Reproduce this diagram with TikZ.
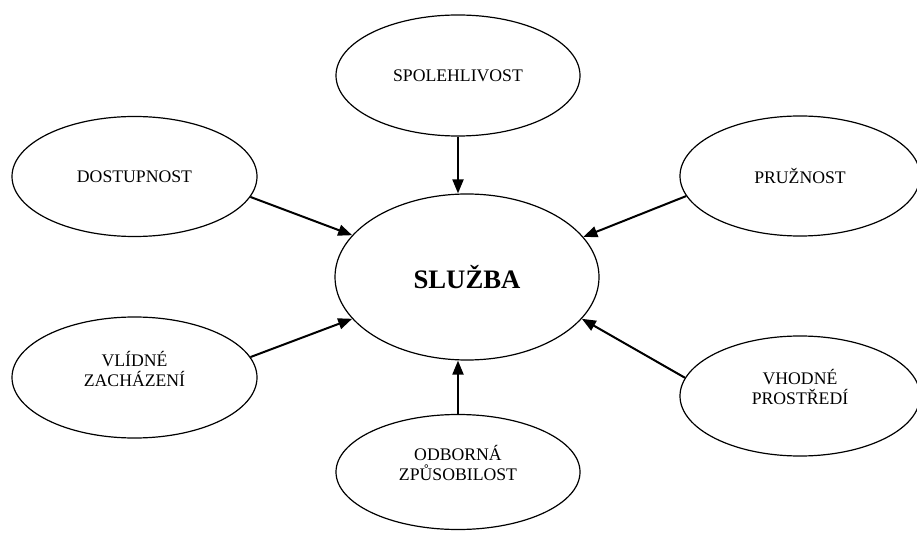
\documentclass[tikz,border=0pt]{standalone}
\usepackage{fontspec}
\setmainfont{Liberation Serif}
\usetikzlibrary{shapes.geometric,arrows.meta}
\begin{document}
\begin{tikzpicture}[x=1pt,y=1pt]
    \tikzstyle{bubble}=[ellipse, draw, line width=1.2pt, inner sep=0pt, minimum width=244pt, minimum height=120pt, align=center, font=\fontsize{17.7}{20}\selectfont]
    \tikzstyle{twoline}=[text depth=18pt]
    \tikzstyle{link}=[line width=2pt, -{Triangle[length=14pt,width=11pt]}]

    \useasboundingbox (0,0) rectangle (917,533);

    \node [bubble, minimum width=264pt, minimum height=166pt, font=\fontsize{26.7}{30}\selectfont\bfseries] (a) at (467,256) {SLUŽBA};

    \node [bubble, minimum height=121pt] (b) at (458,457.5) {SPOLEHLIVOST};
    \node [bubble, minimum width=245pt] (c) at (134.5,356.5) {DOSTUPNOST};
    \node [bubble, minimum width=240pt] (d) at (800,357) {PRUŽNOST};
    \node [bubble, twoline, minimum width=245pt, minimum height=121pt] (e) at (134.5,155.5) {VLÍDNÉ\\ZACHÁZENÍ};
    \node [bubble, twoline, minimum width=240pt] (f) at (800,137) {VHODNÉ\\PROSTŘEDÍ};
    \node [bubble, twoline, minimum height=115pt] (g) at (458,61) {ODBORNÁ\\ZPŮSOBILOST};

    \draw [link] (b.south) -- (b.south |- a.north);
    \draw [link] (c.-10) -- (a.160);
    \draw [link] (d.190) -- (a.19);
    \draw [link] (e.10) -- (a.200);
    \draw [link] (f.171) -- (a.340);
    \draw [link] (g.north) -- (g.north |- a.south);
  \end{tikzpicture}
\end{document}
